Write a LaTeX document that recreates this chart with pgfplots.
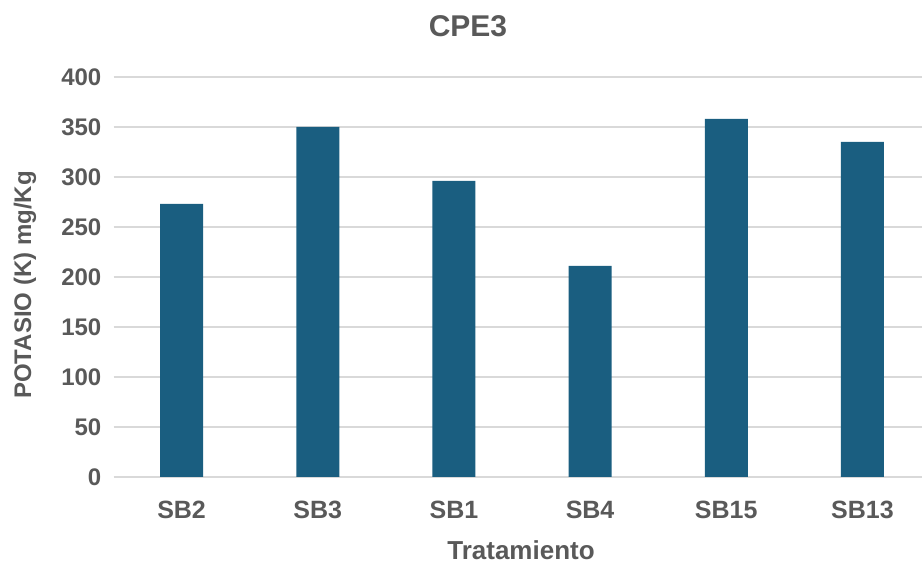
\documentclass[border=0pt]{standalone}
\usepackage{pgfplots}
\pgfplotsset{compat=1.18}
\usepackage{fontspec}
\setmainfont{Liberation Sans}

\definecolor{barblue}{HTML}{1A5E80}
\definecolor{txtgray}{HTML}{595959}
\definecolor{gridgray}{HTML}{D9D9D9}

\begin{document}
\begin{tikzpicture}[x=1pt,y=1pt]
\path[use as bounding box] (0,0) rectangle (922,565);
\begin{axis}[
  at={(113.5pt,88pt)}, anchor=south west,
  scale only axis,
  width=817pt, height=400pt,
  xmin=-0.5, xmax=5.5,
  ymin=0, ymax=400,
  ytick={0,50,...,400},
  xtick={0,...,5},
  xticklabels={SB2,SB3,SB1,SB4,SB15,SB13},
  axis line style={draw=none},
  major tick length=0pt,
  ymajorgrids,
  grid style={gridgray, line width=1.3pt},
  ybar, bar width=43pt,
  tick label style={font=\bfseries, text=txtgray},
  yticklabel style={font=\fontsize{24}{28}\selectfont\bfseries, anchor=east, inner sep=0pt, xshift=-12pt},
  xticklabel style={font=\fontsize{25}{30}\selectfont\bfseries, anchor=north, inner sep=0pt, yshift=-24pt},
  /pgf/number format/assume math mode=true,
]
\addplot[fill=barblue, draw=none] coordinates {(0,273) (1,350) (2,296) (3,211) (4,358) (5,335)};
\end{axis}
\node[text=txtgray, font=\fontsize{30}{34}\selectfont\bfseries] at (468,539) {CPE3};
\node[text=txtgray, font=\fontsize{26}{30}\selectfont\bfseries] at (521,15) {Tratamiento};
\node[text=txtgray, font=\fontsize{24}{28}\selectfont\bfseries, rotate=90] at (25,280) {POTASIO (K) mg/Kg};
\end{tikzpicture}
\end{document}
